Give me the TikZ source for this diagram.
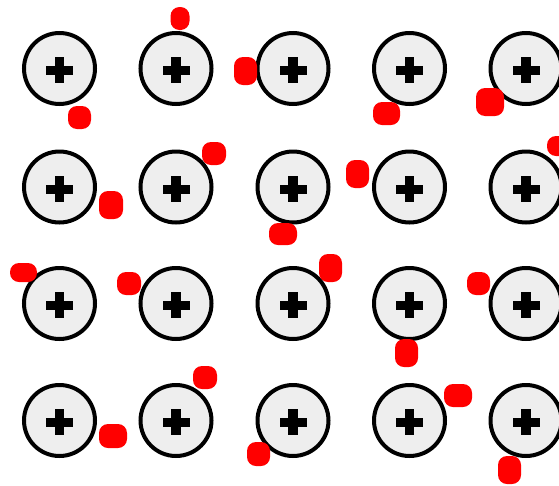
\documentclass[tikz,border=0pt]{standalone}
\begin{document}
\begin{tikzpicture}[x=1pt,y=-1pt,
  ion/.style={circle,draw=black,fill={rgb,255:red,238;green,238;blue,238},line width=4pt,minimum size=71pt,inner sep=0pt},
  plusbar/.style={fill=black},
  electron/.style={rectangle,rounded corners=9pt,fill=red,inner sep=0pt}]
\useasboundingbox[fill=white] (0,0) rectangle (559,485);
% ions
\foreach \r/\y in {1/68.5,2/187,3/303.5,4/420.5}{
  \foreach \c/\x in {1/59.5,2/176,3/293,4/409.5,5/526}{
    \node[ion] (ion\r\c) at (\x,\y) {};
    \fill[plusbar] ([shift={(-13.5,-2.5)}]ion\r\c.center) rectangle ([shift={(13.5,6.5)}]ion\r\c.center);
    \fill[plusbar] ([shift={(-4.75,-11.5)}]ion\r\c.center) rectangle ([shift={(4.75,14.5)}]ion\r\c.center);
  }
}
% electrons
\foreach \n/\x/\y/\w/\h in {
  e1/79.5/117.5/23/23, e2/180/18.5/19/23, e3/245.5/71/23/28, e4/386.5/113.5/27/23, e5/490/102/28/28,
  e6/111/205/24/28, e7/214/153.5/24/23, e8/283/234/28/22, e9/357.5/174/23/28, e10/558/146/22/20,
  e11/23.5/272.5/27/19, e12/129/283.5/24/23, e13/330.5/268/23/28, e14/406.5/353/23/28, e15/478.5/283.5/23/23,
  e16/113/436/28/24, e17/205/377.5/24/23, e18/258.5/454/23/24, e19/458/395.5/28/23, e20/509.5/470/23/28}{
  \node[electron,minimum width=\w pt,minimum height=\h pt] (\n) at (\x,\y) {};
}
\end{tikzpicture}
\end{document}
